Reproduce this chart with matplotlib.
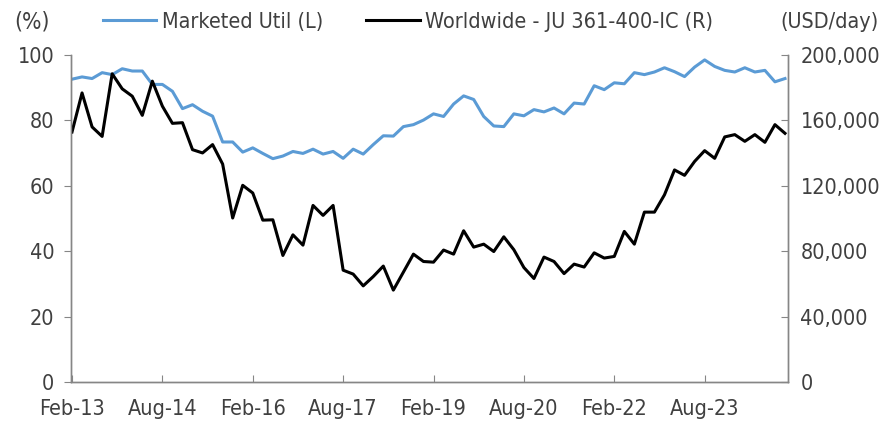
import matplotlib
matplotlib.use("Agg")
import matplotlib.pyplot as plt
import pandas as pd

plt.rcParams['font.family'] = ['DejaVu Sans']
plt.rcParams['font.stretch'] = 'condensed'

# bi-monthly observations, Feb-13 .. Dec-24
dates = pd.date_range("2013-02-01", periods=72, freq="2MS")
labels = [d.strftime("%b-%y") for d in dates]

# Marketed utilisation (%), left axis
util = [92.6, 93.3, 92.8, 94.6, 94.0, 95.8, 95.1, 95.1, 91.0, 91.0,
        88.9, 83.6, 84.8, 82.8, 81.3, 73.4, 73.4, 70.3, 71.6, 69.9,
        68.3, 69.1, 70.5, 69.9, 71.2, 69.7, 70.5, 68.4, 71.2, 69.7,
        72.6, 75.3, 75.2, 78.1, 78.7, 80.1, 82.0, 81.2, 85.0, 87.5,
        86.4, 81.2, 78.3, 78.1, 82.0, 81.4, 83.3, 82.6, 83.8, 82.0,
        85.3, 85.0, 90.6, 89.4, 91.5, 91.2, 94.6, 94.0, 94.8, 96.1,
        94.9, 93.4, 96.3, 98.5, 96.5, 95.3, 94.8, 96.1, 94.8, 95.3,
        91.8, 92.8]

# Worldwide JU 361-400-IC day rate (USD/day), right axis
rate = [152900, 176800, 156000, 150200, 188500, 179300, 174800, 163100, 184000, 168700,
        158200, 158600, 142100, 140100, 145200, 133300, 100300, 120300, 115600, 99000,
        99200, 77400, 90000, 83700, 108000, 101900, 108000, 68400, 66000, 58800,
        64500, 70900, 56200, 67200, 78200, 73700, 73300, 80700, 78200, 92500,
        82500, 84300, 79800, 88800, 80900, 70000, 63300, 76400, 73700, 66300,
        72100, 70300, 79000, 75800, 76800, 92100, 84300, 103900, 103900, 114500,
        129700, 126400, 134900, 141500, 136800, 149900, 151300, 147200, 151300, 146600,
        157400, 152100]

txt = '#404040'
fs = 15.5

fig = plt.figure(figsize=(8.86, 4.21), dpi=100)
ax = fig.add_axes([71/886, 1-382/421, (788-71)/886, (382-55)/421])
ax2 = ax.twinx()

x = list(range(len(dates)))
l1, = ax.plot(x, util, color='#5B9BD5', lw=2.2, label='Marketed Util (L)')
l2, = ax2.plot(x, rate, color='black', lw=2.2, label='Worldwide - JU 361-400-IC (R)')

ax.set_xlim(-0.1, 71.3)
ax.set_ylim(0, 100)
ax.set_yticks(range(0, 101, 20))
ax2.set_ylim(0, 200000)
ax2.set_yticks(range(0, 200001, 40000))
ax2.set_yticklabels([f"{v:,}" for v in range(0, 200001, 40000)])
ax.set_xticks(x[::9])
ax.set_xticklabels(labels[::9])

for a in (ax, ax2):
    a.spines['top'].set_visible(False)
    for s in ('left', 'right', 'bottom'):
        a.spines[s].set_color('#868686')
        a.spines[s].set_linewidth(1.0)
ax.tick_params(axis='y', direction='out', length=5, color='#868686', labelsize=fs,
               labelcolor=txt, pad=7)
ax.tick_params(axis='x', direction='in', length=5, color='#868686', labelsize=fs,
               labelcolor=txt, pad=12)
ax2.tick_params(axis='y', direction='in', length=5, color='#868686', labelsize=fs,
                labelcolor=txt, pad=9)

fig.legend(handles=[l1, l2], loc='center', bbox_to_anchor=(408/886, 1-22/421),
           ncol=2, frameon=False, fontsize=fs, labelcolor=txt,
           handlelength=2.5, handletextpad=0.25, columnspacing=2.0)
fig.text(32/886, 1-22/421, '(%)', ha='center', va='center', fontsize=fs + 1, color=txt)
fig.text(830/886, 1-22/421, '(USD/day)', ha='center', va='center', fontsize=fs, color=txt)

fig.savefig('out.png', dpi=100)
